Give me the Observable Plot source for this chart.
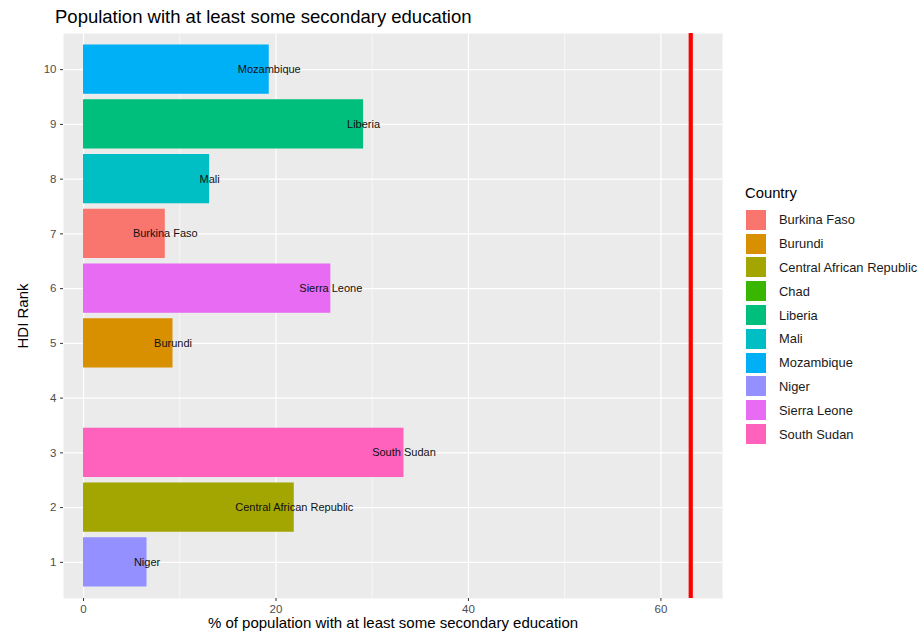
<!DOCTYPE html>
<html>
<head>
<meta charset="utf-8">
<script src="https://cdn.jsdelivr.net/npm/d3@7"></script>
<script src="https://cdn.jsdelivr.net/npm/@observablehq/plot@0.6"></script>
<style>
  body { margin:0; background:#fff; font-family:"Liberation Sans", Arial, sans-serif; }
  #wrap { position:relative; width:918px; height:633px; overflow:hidden; }
  #title { position:absolute; left:55px; top:6px; font-size:18.5px; color:#000; white-space:nowrap; }
  #chart { position:absolute; left:0; top:0; }
  #chart svg { font-family:"Liberation Sans", Arial, sans-serif; }
  #legend { position:absolute; left:745px; top:185px; font-size:12.9px; color:#1a1a1a; }
  #legend .lt { font-size:14.8px; margin-bottom:7px; color:#000; }
  #legend .row { display:flex; align-items:center; height:23.8px; }
  #legend .key { width:22px; height:22px; margin-right:12px; border:0.9px solid #fff; box-sizing:border-box; }
</style>
</head>
<body>
<div id="wrap">
  <div id="chart"></div>
  <div id="title">Population with at least some secondary education</div>
  <div id="legend"></div>
</div>
<script>
const countries = ["Burkina Faso","Burundi","Central African Republic","Chad","Liberia","Mali","Mozambique","Niger","Sierra Leone","South Sudan"];
const hdiRank   = [7, 5, 2, 4, 9, 8, 10, 1, 6, 3];
const secEdu    = [8.5, 9.3, 21.9, null, 29.1, 13.1, 19.3, 6.6, 25.7, 33.3];
const colors    = ["#F8766D","#D89000","#A3A500","#39B600","#00BF7D","#00BFC4","#00B0F6","#9590FF","#E76BF3","#FF62BC"];
const refLine   = [63.1];
const xTicks    = [0, 20, 40, 60];
const xMinor    = [10, 30, 50];
const yTicks    = [1,2,3,4,5,6,7,8,9,10];

const data = countries.map((c, i) => ({country: c, rank: hdiRank[i], value: secEdu[i]}));
const bars = data.filter(d => d.value != null);

const plot = Plot.plot({
  width: 730,
  height: 633,
  marginLeft: 63,
  marginRight: 8,
  marginTop: 33,
  marginBottom: 35,
  style: {fontFamily: "Liberation Sans, Arial, sans-serif", fontSize: "11.5px", background: "transparent"},
  x: {domain: [-2.08, 66.4]},
  y: {domain: [0.34, 10.66]},
  color: {domain: countries, range: colors, legend: false},
  marks: [
    Plot.frame({fill: "#ebebeb", stroke: null}),
    Plot.ruleX(xMinor, {stroke: "#fff", strokeWidth: 0.6}),
    Plot.ruleX(xTicks, {stroke: "#fff", strokeWidth: 1.2}),
    Plot.ruleY(yTicks, {stroke: "#fff", strokeWidth: 1.2}),
    Plot.rect(bars, {x1: 0, x2: "value", y1: d => d.rank - 0.45, y2: d => d.rank + 0.45, fill: "country"}),
    Plot.text(bars, {x: "value", y: "rank", text: "country", fill: "#111", fontSize: 11}),
    Plot.ruleX(refLine, {stroke: "#ff0000", strokeWidth: 4.2}),
    Plot.axisX(xTicks, {tickSize: 3, tickPadding: 3, stroke: "#333", fill: "#4d4d4d", fontSize: 11.5, tickFormat: d => String(d),
      label: "% of population with at least some secondary education", labelAnchor: "center", labelArrow: "none", labelOffset: 29}),
    Plot.axisY(yTicks, {tickSize: 3, tickPadding: 4, stroke: "#333", fill: "#4d4d4d", fontSize: 11.5, tickFormat: d => String(d),
      label: "HDI Rank", labelAnchor: "center", labelArrow: "none", labelOffset: 46})
  ]
});
document.getElementById("chart").appendChild(plot);

// axis title styling
plot.querySelectorAll('g[aria-label="x-axis label"] text, g[aria-label="y-axis label"] text').forEach(t => {
  t.style.fontSize = "15px"; t.setAttribute("fill", "#000");
});

const lg = document.getElementById("legend");
const lt = document.createElement("div"); lt.className = "lt"; lt.textContent = "Country"; lg.appendChild(lt);
countries.forEach((c, i) => {
  const r = document.createElement("div"); r.className = "row";
  const k = document.createElement("div"); k.className = "key"; k.style.background = colors[i];
  const s = document.createElement("span"); s.textContent = c;
  r.appendChild(k); r.appendChild(s); lg.appendChild(r);
});
</script>
</body>
</html>
